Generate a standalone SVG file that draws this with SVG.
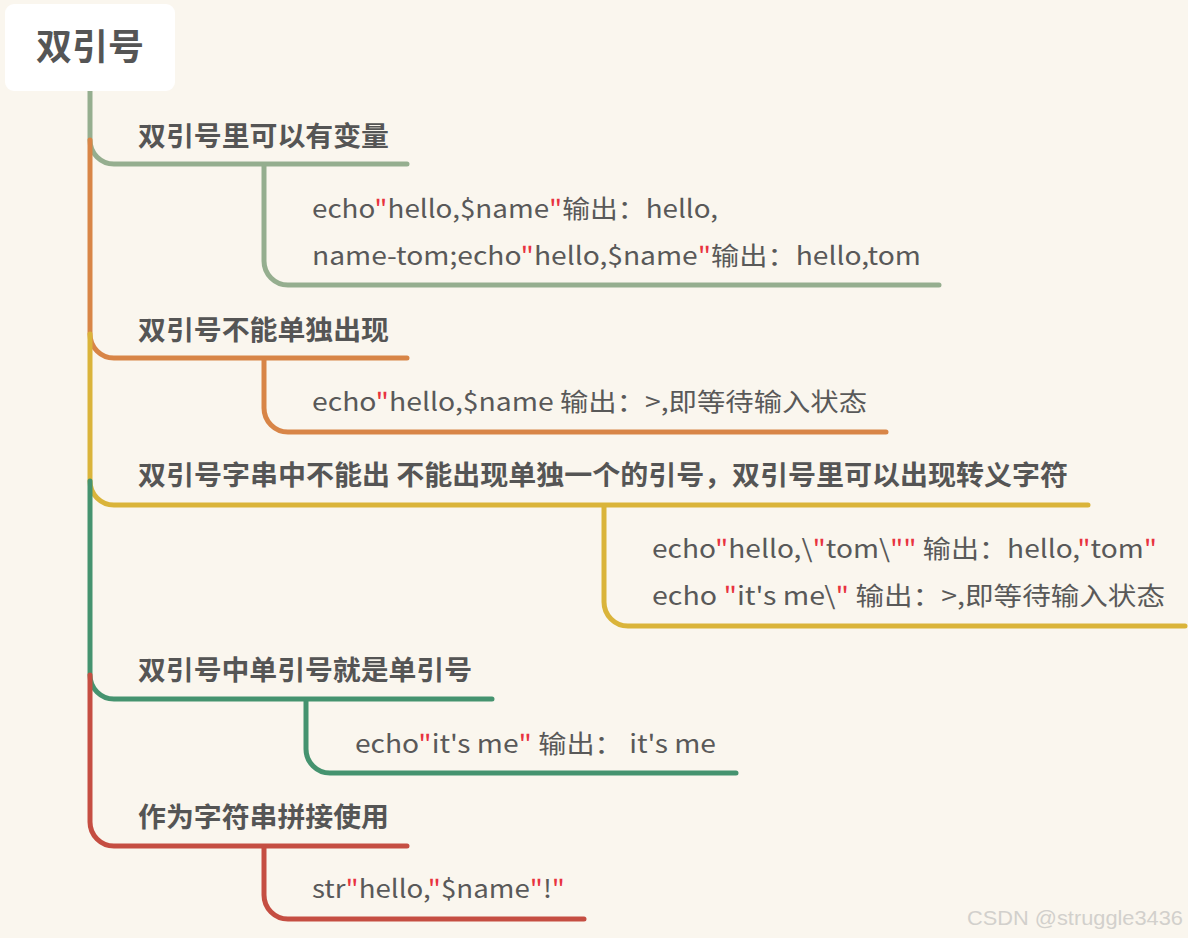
<svg xmlns="http://www.w3.org/2000/svg" width="1188" height="938" viewBox="0 0 1188 938">
<style>
.bg{fill:#FAF6EE}
.br{fill:none;stroke-width:5;stroke-linecap:round;stroke-linejoin:round}
.lbl{font-family:"Noto Sans CJK SC","Noto Sans",sans-serif;font-weight:bold;font-size:27px;fill:#555555}
.txt{font-family:"Noto Sans CJK SC","Noto Sans",sans-serif;font-size:25px;fill:#595959}
.q{fill:#E8333F}
.wm{font-family:"Liberation Sans",Arial,sans-serif;font-size:20px;fill:#D2D0CC}
</style>
<rect class="bg" x="0" y="0" width="1188" height="938"/>
<g id="connectors">
  <path class="br" stroke="#95AE8F" d="M90,90 V140 A24,24 0 0 0 114,164 H407 M264,164 V261 A24,24 0 0 0 288,285 H939"/>
  <path class="br" stroke="#D88547" d="M90,140 V334 A24,24 0 0 0 114,358 H407 M264,358 V408 A24,24 0 0 0 288,432 H886"/>
  <path class="br" stroke="#DAB43A" d="M90,334 V481 A24,24 0 0 0 114,505 H1088 M604,505 V602 A24,24 0 0 0 628,626 H1185"/>
  <path class="br" stroke="#45936F" d="M90,481 V675 A24,24 0 0 0 114,699 H492 M306,699 V749 A24,24 0 0 0 330,773 H736"/>
  <path class="br" stroke="#C54E42" d="M90,675 V822 A24,24 0 0 0 114,846 H407 M264,846 V895 A24,24 0 0 0 288,919 H584"/>
</g>
<g id="root">
  <rect x="5" y="4" width="170" height="87" rx="9" fill="#FFFFFF"/>
  <text x="90" y="60" text-anchor="middle" style="font-family:'Noto Sans CJK SC',sans-serif;font-weight:bold;font-size:36px;fill:#555555">双引号</text>
</g>
<g id="n1">
  <text class="lbl" x="138" y="146" textLength="251" lengthAdjust="spacingAndGlyphs">双引号里可以有变量</text>
  <text class="txt" x="312" y="218" textLength="406" lengthAdjust="spacingAndGlyphs">echo<tspan class="q">"</tspan>hello,$name<tspan class="q">"</tspan>输出：hello,</text>
  <text class="txt" x="312" y="265" textLength="609" lengthAdjust="spacingAndGlyphs">name-tom;echo<tspan class="q">"</tspan>hello,$name<tspan class="q">"</tspan>输出：hello,tom</text>
</g>
<g id="n2">
  <text class="lbl" x="138" y="340" textLength="251" lengthAdjust="spacingAndGlyphs">双引号不能单独出现</text>
  <text class="txt" x="312" y="411" textLength="555" lengthAdjust="spacingAndGlyphs">echo<tspan class="q">"</tspan>hello,$name 输出：&gt;,即等待输入状态</text>
</g>
<g id="n3">
  <text class="lbl" x="138" y="485" textLength="930" lengthAdjust="spacingAndGlyphs">双引号字串中不能出 不能出现单独一个的引号，双引号里可以出现转义字符</text>
  <text class="txt" x="652" y="558" textLength="505" lengthAdjust="spacingAndGlyphs">echo<tspan class="q">"</tspan>hello,\<tspan class="q">"</tspan>tom\<tspan class="q">""</tspan> 输出：hello,<tspan class="q">"</tspan>tom<tspan class="q">"</tspan></text>
  <text class="txt" x="652" y="605" textLength="513" lengthAdjust="spacingAndGlyphs">echo <tspan class="q">"</tspan>it's me\<tspan class="q">"</tspan> 输出：&gt;,即等待输入状态</text>
</g>
<g id="n4">
  <text class="lbl" x="138" y="680" textLength="334" lengthAdjust="spacingAndGlyphs">双引号中单引号就是单引号</text>
  <text class="txt" x="355" y="753" textLength="361" lengthAdjust="spacingAndGlyphs">echo<tspan class="q">"</tspan>it's me<tspan class="q">"</tspan> 输出： it's me</text>
</g>
<g id="n5">
  <text class="lbl" x="138" y="827" textLength="251" lengthAdjust="spacingAndGlyphs">作为字符串拼接使用</text>
  <text class="txt" x="312" y="898" textLength="253" lengthAdjust="spacingAndGlyphs">str<tspan class="q">"</tspan>hello,<tspan class="q">"</tspan>$name<tspan class="q">"</tspan>!<tspan class="q">"</tspan></text>
</g>
<g id="watermark">
  <text class="wm" x="967" y="925" textLength="216" lengthAdjust="spacingAndGlyphs">CSDN @struggle3436</text>
</g>
</svg>
